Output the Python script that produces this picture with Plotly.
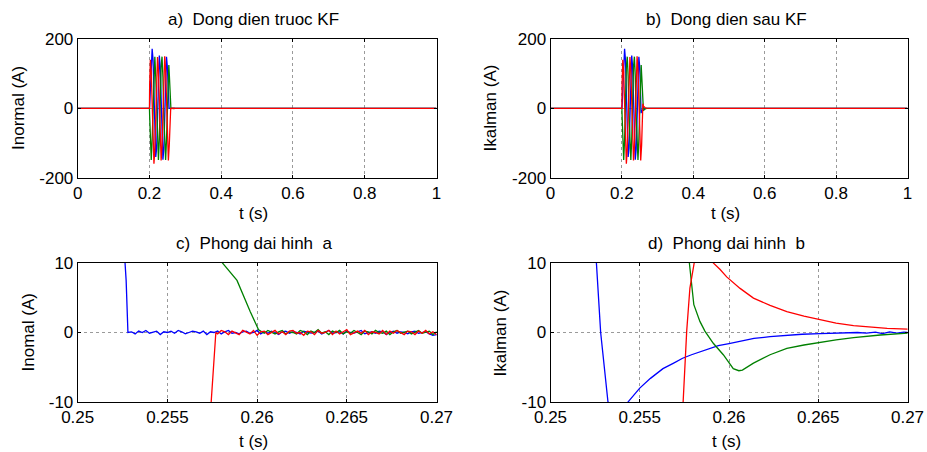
import plotly.graph_objects as go

# ---------------- data ----------------
# pre-fault: all currents zero
pre_t = [0.0, 0.2]
pre_v = [0.0, 0.0]

# fault burst (shared by the "normal" and the "Kalman" signals)
burst_t = [0.2005, 0.2025, 0.2050, 0.2075, 0.2100, 0.2125, 0.2150, 0.2175, 0.2200, 0.2225,
           0.2250, 0.2275, 0.2300, 0.2325, 0.2350, 0.2375, 0.2400, 0.2425, 0.2450, 0.2475, 0.2500]
blue_burst = [5, 45, 130, 172, 140, 30, -80, -140, -115, -15, 95, 152, 120, 20, -90, -148, -118, -19, 92, 149, 118]
red_burst = [65, 140, 105, 0, -110, -160, -118, -12, 95, 148, 110, 8, -99, -150, -112, -9, 99, 150, 112, 9, -99]
green_burst = [-20, -120, -149, -91, 20, 120, 149, 91, -20, -120, -149, -91, 20, 120, 149, 91, -20, -120, -149, -91, 20]

# --- measured (normal) currents: clearing at current zero ---
blue_n_end_t = [0.2526, 0.2527, 0.2528]
blue_n_end_v = [10, 7.5, 0]
red_n_end_t = [0.2527, 0.2552, 0.2568, 0.25744, 0.25757, 0.2577]
red_n_end_v = [-150, -106, -45, -10, -5.3, 0]
green_n_end_t = [0.2525, 0.2540, 0.2555, 0.2568, 0.2575, 0.25807, 0.25888, 0.25962, 0.26008]
green_n_end_v = [105, 125, 95, 45, 20, 10, 7.5, 3.0, 0.4]

noise_step = 0.0002
blue_noise_start = 0.2530
blue_noise = [0.1, -0.2, 0.2, 0.0, 0.3, -0.1, 0.1, 0.2, -0.3, 0.1,
              0.0, 0.2, -0.1, 0.3, 0.1, -0.2, 0.0, 0.2, 0.1, -0.1,
              0.2, -0.3, 0.1, 0.0, 0.2, -0.2, 0.1, 0.3, -0.1, 0.0,
              -0.2, 0.1, 0.2, -0.1, 0.0, 0.3, -0.2, 0.1, -0.1, 0.2,
              0.0, -0.3, 0.1, 0.2, -0.1, 0.1, 0.0, -0.2, 0.2, 0.1,
              -0.1, 0.0, 0.2, -0.2, 0.1, 0.3, -0.1, 0.0, 0.1, -0.2,
              0.2, 0.0, -0.1, 0.1, 0.3, -0.2, 0.0, 0.1, -0.1, 0.2,
              0.1, -0.3, 0.0, 0.2, -0.1, 0.1, 0.0, -0.2, 0.1, 0.2,
              -0.1, 0.0, 0.1, -0.2, -0.4, -0.3]
red_noise_start = 0.2578
red_noise = [-0.2, 0.3, 0.1, -0.3, 0.2, 0.0, -0.3, 0.3, 0.1, -0.2,
             0.3, -0.4, 0.1, 0.2, -0.3, 0.0, 0.3, -0.2, 0.1, -0.3,
             0.2, 0.3, -0.1, 0.0, -0.4, 0.2, 0.1, -0.3, 0.3, -0.1,
             0.0, 0.3, -0.3, 0.2, -0.2, 0.1, 0.4, -0.3, 0.0, 0.2,
             -0.1, 0.3, -0.3, 0.1, 0.0, -0.2, 0.3, -0.3, 0.2, -0.1,
             0.3, 0.0, -0.3, 0.2, 0.1, -0.3, 0.2, -0.1, 0.3, -0.2,
             0.1, -0.3]
green_noise_start = 0.2602
green_noise = [0.2, -0.1, 0.3, 0.0, -0.2, 0.1, 0.3, -0.2, 0.1, 0.0,
               -0.2, 0.3, 0.1, -0.3, 0.2, 0.0, 0.4, -0.1, 0.1, -0.3,
               0.2, 0.0, 0.3, -0.2, 0.1, -0.1, 0.3, 0.0, -0.3, 0.2,
               0.1, -0.2, 0.3, 0.0, -0.1, 0.2, -0.3, 0.1, 0.3, -0.1,
               0.0, 0.2, -0.2, 0.1, 0.3, -0.1, 0.0, 0.2, -0.3, 0.1]

# --- Kalman-filtered currents ---
blue_k_end_t = [0.25257, 0.25281, 0.25322, 0.2535, 0.2538, 0.2541, 0.25434, 0.2550, 0.2556, 0.2563,
                0.2569, 0.2574, 0.2579, 0.2584, 0.2589, 0.2594, 0.2600, 0.2606, 0.2614, 0.2623,
                0.2632, 0.2641, 0.2651, 0.2660, 0.2666, 0.2672, 0.2677, 0.2682, 0.2686, 0.2690,
                0.2694, 0.2698, 0.2700, 0.2750]
blue_k_end_v = [10, 0, -10, -13, -14, -11.5, -10, -8.0, -6.6, -5.2,
                -4.4, -3.7, -3.2, -2.8, -2.3, -1.9, -1.6, -1.3, -0.85, -0.6,
                -0.4, -0.25, -0.15, -0.1, -0.05, 0.0, -0.1, 0.05, -0.15, 0.1,
                -0.1, 0.05, 0.0, 0.0]
red_k_end_t = [0.2527, 0.2552, 0.2568, 0.25743, 0.25757, 0.25763, 0.25781, 0.25805, 0.2584, 0.2587,
               0.2590, 0.25912, 0.25949, 0.25987, 0.26062, 0.26137, 0.2623, 0.26324, 0.2642, 0.26511,
               0.2660, 0.26698, 0.2680, 0.26886, 0.2700, 0.2800]
red_k_end_v = [-150, -106, -45, -10, -3.2, 0.2, 6.4, 10, 13, 13.5,
               11, 10, 9.1, 8.0, 6.35, 4.95, 3.9, 3.0, 2.35, 1.8,
               1.35, 1.0, 0.8, 0.6, 0.5, 0.0]
green_k_end_t = [0.2525, 0.2540, 0.2555, 0.2568, 0.2575, 0.25778, 0.25791, 0.25803, 0.25837, 0.25865,
                 0.25912, 0.25968, 0.26024, 0.26055, 0.26075, 0.26137, 0.2623, 0.26324, 0.2642, 0.26511,
                 0.2660, 0.26698, 0.26848, 0.2700, 0.2800]
green_k_end_v = [105, 125, 95, 50, 25, 10, 6.6, 4.0, 1.6, 0.2,
                 -1.55, -3.2, -5.2, -5.5, -5.4, -4.4, -3.2, -2.27, -1.8, -1.4,
                 -1.05, -0.75, -0.36, -0.1, 0.0]

post_t = [1.0]
post_v = [0.0]

titles = ["a)\u00a0 Dong dien truoc KF", "b)\u00a0 Dong dien sau KF",
          "c)\u00a0 Phong dai hinh\u00a0 a", "d)\u00a0 Phong dai hinh\u00a0 b"]
ylabels = ["Inormal (A)", "Ikalman (A)", "Inomal (A)", "Ikalman (A)"]
xlabel = "t (s)"

x_full_ticks = [0, 0.2, 0.4, 0.6, 0.8, 1.0]
x_full_text = ["0", "0.2", "0.4", "0.6", "0.8", "1"]
x_zoom_ticks = [0.25, 0.255, 0.26, 0.265, 0.27]
x_zoom_text = ["0.25", "0.255", "0.26", "0.265", "0.27"]
y_full_ticks = [-200, 0, 200]
y_full_text = ["-200", "0", "200"]
y_zoom_ticks = [-10, 0, 10]
y_zoom_text = ["-10", "0", "10"]

colors = {"blue": "#0000ff", "green": "#008000", "red": "#ff0000"}


def noise_times(start, vals):
    return [round(start + noise_step * i, 5) for i in range(len(vals))]


normal = {
    "blue": (pre_t + burst_t + blue_n_end_t + noise_times(blue_noise_start, blue_noise) + post_t,
             pre_v + blue_burst + blue_n_end_v + blue_noise + post_v),
    "green": (pre_t + burst_t + green_n_end_t + noise_times(green_noise_start, green_noise) + post_t,
              pre_v + green_burst + green_n_end_v + green_noise + post_v),
    "red": (pre_t + burst_t + red_n_end_t + noise_times(red_noise_start, red_noise) + post_t,
            pre_v + red_burst + red_n_end_v + red_noise + post_v),
}
kalman = {
    "blue": (pre_t + burst_t + blue_k_end_t + post_t, pre_v + blue_burst + blue_k_end_v + post_v),
    "green": (pre_t + burst_t + green_k_end_t + post_t, pre_v + green_burst + green_k_end_v + post_v),
    "red": (pre_t + burst_t + red_k_end_t + post_t, pre_v + red_burst + red_k_end_v + post_v),
}

# ---------------- figure ----------------
W, H = 927, 452
FONT = "Liberation Sans, Arial, sans-serif"
FS = 17

fig = go.Figure()
panels = [(normal, "x", "y"), (kalman, "x2", "y2"), (normal, "x3", "y3"), (kalman, "x4", "y4")]
for data, xa, ya in panels:
    for ph in ["blue", "green", "red"]:
        t, v = data[ph]
        fig.add_trace(go.Scatter(x=t, y=v, mode="lines", xaxis=xa, yaxis=ya,
                                 line=dict(color=colors[ph], width=1.3), showlegend=False,
                                 hoverinfo="skip"))

xdom_l = [77.7 / W, 436.5 / W]
xdom_r = [550.5 / W, 907.5 / W]
ydom_t = [1 - 177.7 / H, 1 - 39 / H]
ydom_b = [1 - 402 / H, 1 - 263 / H]

common = dict(showline=True, linecolor="black", linewidth=1, mirror="ticks",
              ticks="inside", ticklen=3, tickcolor="black", tickwidth=1,
              showgrid=True, gridcolor="#9a9a9a", griddash="dot", gridwidth=1,
              zeroline=False, tickfont=dict(family=FONT, size=FS, color="black"),
              automargin=False, fixedrange=True)

layout_axes = {
    "xaxis": dict(domain=xdom_l, anchor="y", range=[0, 1], tickvals=x_full_ticks, ticktext=x_full_text, **common),
    "yaxis": dict(domain=ydom_t, anchor="x", range=[-200, 200], tickvals=y_full_ticks, ticktext=y_full_text, **common),
    "xaxis2": dict(domain=xdom_r, anchor="y2", range=[0, 1], tickvals=x_full_ticks, ticktext=x_full_text, **common),
    "yaxis2": dict(domain=ydom_t, anchor="x2", range=[-200, 200], tickvals=y_full_ticks, ticktext=y_full_text, **common),
    "xaxis3": dict(domain=xdom_l, anchor="y3", range=[0.25, 0.27], tickvals=x_zoom_ticks, ticktext=x_zoom_text, **common),
    "yaxis3": dict(domain=ydom_b, anchor="x3", range=[-10, 10], tickvals=y_zoom_ticks, ticktext=y_zoom_text, **common),
    "xaxis4": dict(domain=xdom_r, anchor="y4", range=[0.25, 0.27], tickvals=x_zoom_ticks, ticktext=x_zoom_text, **common),
    "yaxis4": dict(domain=ydom_b, anchor="x4", range=[-10, 10], tickvals=y_zoom_ticks, ticktext=y_zoom_text, **common),
}

ann = []
def add_text(text, xpx, ypx, angle=0):
    ann.append(dict(text=text, x=xpx / W, y=1 - ypx / H, xref="paper", yref="paper",
                    xanchor="center", yanchor="middle", showarrow=False, textangle=angle,
                    font=dict(family=FONT, size=FS, color="black")))

add_text(titles[0], 254, 20)
add_text(titles[1], 726, 20)
add_text(titles[2], 254, 244)
add_text(titles[3], 726, 244)
add_text(xlabel, 254, 213)
add_text(xlabel, 725, 213)
add_text(xlabel, 254, 441)
add_text(xlabel, 726, 441)
add_text(ylabels[0], 18.5, 108.5, -90)
add_text(ylabels[1], 490, 108.5, -90)
add_text(ylabels[2], 27.5, 333, -90)
add_text(ylabels[3], 499.5, 333, -90)

fig.update_layout(template="none", width=W, height=H, margin=dict(l=0, r=0, t=0, b=0, autoexpand=False),
                  paper_bgcolor="white", plot_bgcolor="white",
                  font=dict(family=FONT, size=FS, color="black"),
                  annotations=ann, **layout_axes)

fig.write_html("out.html", config={"displayModeBar": False})
